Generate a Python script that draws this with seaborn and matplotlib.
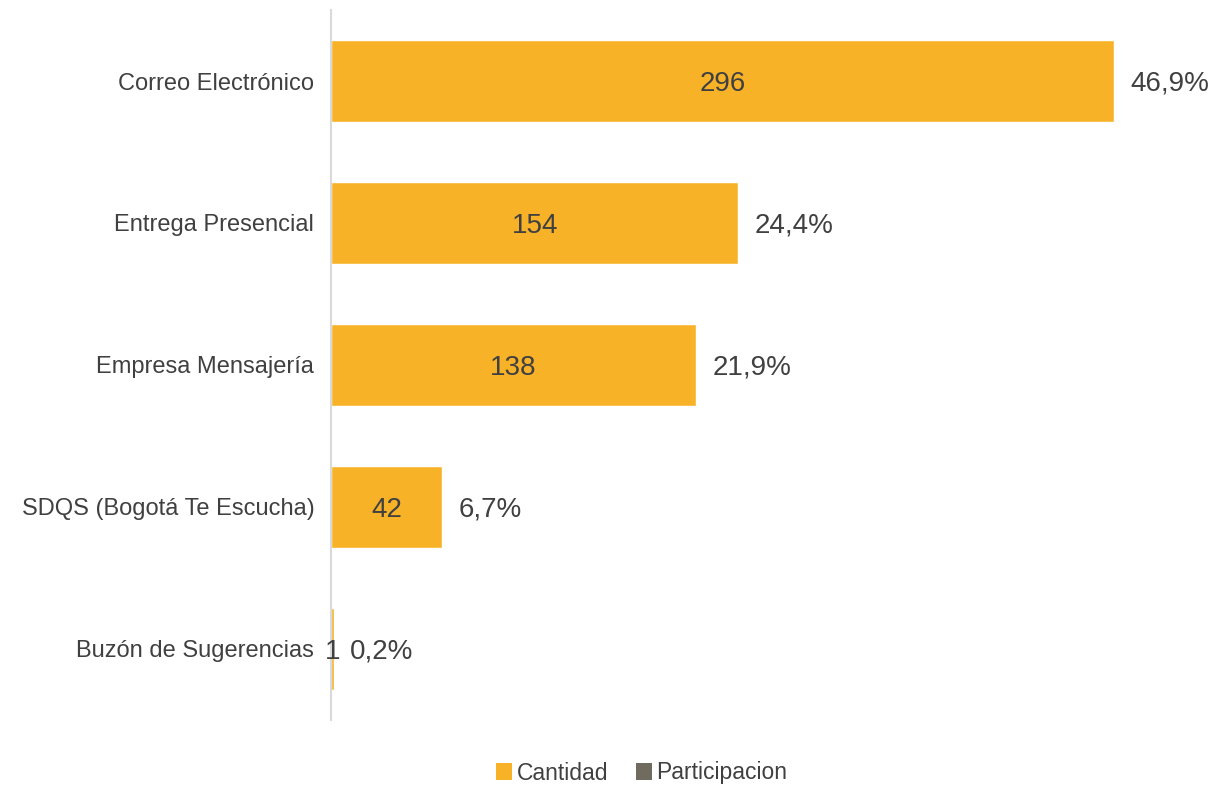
import matplotlib
matplotlib.use("Agg")
import matplotlib.pyplot as plt
import seaborn as sns
import pandas as pd
from matplotlib.patches import Patch

categories = ["Correo Electrónico", "Entrega Presencial", "Empresa Mensajería",
              "SDQS (Bogotá Te Escucha)", "Buzón de Sugerencias"]
cantidad = [296, 154, 138, 42, 1]
participacion = ["46,9%", "24,4%", "21,9%", "6,7%", "0,2%"]
legend_labels = ["Cantidad", "Participacion"]

sns.set_theme(style="white")
plt.rcParams['font.family'] = ['Liberation Sans', 'DejaVu Sans']

bar_color = "#F7B228"
part_color = "#6F6B5F"
text_color = "#404040"

df = pd.DataFrame({"cat": categories, "val": cantidad})

fig = plt.figure(figsize=(12.15, 7.85), dpi=100)
ax = fig.add_axes([331/1215, 65/785, (1200-331)/1215, 710/785])

sns.barplot(data=df, y="cat", x="val", orient="h", color=bar_color,
            width=0.58, saturation=1, ax=ax)

xmax = 328.5
ax.set_xlim(0, xmax)
ax.set_ylim(4.5, -0.5)

for i, (v, p) in enumerate(zip(cantidad, participacion)):
    ax.text(v / 2, i, str(v), ha="center", va="center_baseline", fontsize=20, color=text_color)
    ax.text(v + 6.3, i, p, ha="left", va="center_baseline", fontsize=20, color=text_color)

ax.set_xlabel("")
ax.set_ylabel("")
ax.set_xticks([])
ax.tick_params(axis="y", length=0, pad=12, labelsize=17, labelcolor=text_color)
for s in ["top", "right", "bottom"]:
    ax.spines[s].set_visible(False)
ax.spines["left"].set_color("#D9D9D9")
ax.spines["left"].set_linewidth(1.5)

handles = [Patch(facecolor=bar_color, edgecolor="none"),
           Patch(facecolor=part_color, edgecolor="none")]
fig.legend(handles, legend_labels, loc="center", bbox_to_anchor=(642/1215, 1 - 773/785),
           ncol=2, frameon=False, fontsize=16.5, labelcolor=text_color,
           handlelength=0.7, handleheight=0.7, handletextpad=0.2, columnspacing=1.2)

fig.savefig("out.png", dpi=100)
